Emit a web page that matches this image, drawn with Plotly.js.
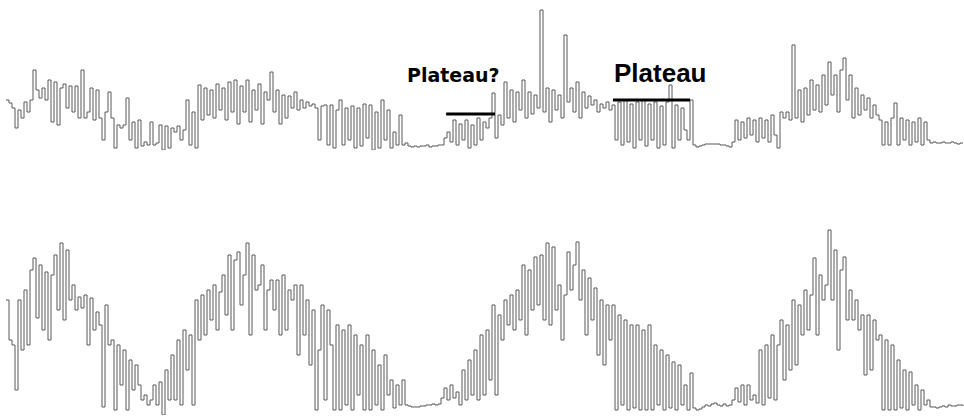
<!DOCTYPE html>
<html>
<head>
<meta charset="utf-8">
<script src="https://cdn.plot.ly/plotly-3.0.1.min.js"></script>
<style>html,body{margin:0;padding:0;background:#fff;}#chart{width:964px;height:416px;}</style>
</head>
<body>
<div id="chart"></div>
<script>
// Upper recording: amplitude per sample
const upperSignal = [
50,47,42,22,40,32,48,38,50,80,60,52,62,50,70,28,68,25,62,66,
42,64,38,64,32,80,32,38,62,30,60,32,10,38,58,32,2,25,22,25,
52,10,28,2,30,4,8,5,28,5,7,25,0,24,2,22,18,24,10,20,
50,5,38,2,65,30,62,35,60,32,66,40,62,30,68,38,70,26,64,38,
70,28,60,40,66,26,58,50,78,38,60,26,55,32,54,42,58,40,50,42,
48,44,46,42,10,44,45,5,45,2,40,50,5,42,10,44,2,42,4,46,
12,45,0,38,2,50,10,40,2,18,5,35,5,7,4,3,4,3,4,4,
5,3,4,4,5,5,12,18,8,30,5,26,10,30,2,25,5,32,10,28,
22,32,57,12,35,25,68,32,60,28,58,40,70,32,58,36,55,42,140,38,
62,28,60,40,55,32,115,48,62,38,68,32,58,42,54,45,50,38,46,42,
48,40,45,10,48,5,50,8,46,2,48,10,50,4,46,10,48,2,44,5,
48,65,2,45,10,42,20,10,50,5,3,4,5,6,6,6,6,6,5,5,
4,3,8,30,10,28,12,32,15,30,8,32,12,30,8,35,15,2,38,32,
38,30,105,32,60,28,62,35,70,40,65,38,75,45,88,55,75,38,80,92,
50,75,32,62,35,55,40,52,32,45,35,30,5,28,5,32,47,5,32,10,
30,5,28,8,32,5,28,10,7,8,7,7,8,7,7,8,7,6,7,7
];

// Lower recording: amplitude per sample
const lowerSignal = [
115,75,70,25,115,65,125,70,145,157,97,150,85,143,75,140,160,105,172,95,
165,115,130,105,118,107,120,70,117,85,103,90,8,110,70,75,5,70,30,65,
5,55,25,50,30,15,20,10,15,30,10,33,0,45,15,60,15,75,10,85,
45,80,10,115,75,120,80,125,95,130,85,123,140,100,160,85,155,163,110,140,
172,80,160,125,130,150,85,125,135,105,135,80,140,85,125,115,130,60,130,80,
115,50,105,5,65,110,15,105,70,5,90,5,85,10,90,5,80,20,70,5,
80,5,65,10,50,5,60,20,35,7,30,10,35,10,9,8,8,8,9,9,
10,10,11,10,11,17,27,15,30,17,23,10,45,15,55,20,65,15,80,20,
85,35,110,20,100,75,115,90,120,85,125,95,150,80,145,105,158,110,160,95,
172,90,168,105,130,75,120,163,125,150,173,115,145,80,137,95,127,60,115,50,
110,75,110,5,100,10,95,5,90,7,90,5,85,5,90,5,70,10,65,5,
60,7,53,5,50,10,30,5,42,7,5,6,8,10,9,11,12,10,9,11,
9,10,15,27,13,30,10,30,15,20,12,65,10,70,17,80,15,70,95,35,
90,45,115,50,110,80,125,85,120,157,80,140,115,130,185,115,165,65,145,158,
95,125,95,115,85,100,40,100,45,95,75,80,5,75,5,70,5,55,7,45,
5,43,10,30,5,25,10,15,8,8,7,8,9,8,10,9,9,10,10,9
];

// Annotation labels
const labels = ["Plateau?", "Plateau"];

const idxU = upperSignal.map((_, i) => i);
const idxL = lowerSignal.map((_, i) => i);

const lineStyle = {color: '#585858', width: 1, shape: 'hv'};

const traces = [
  {x: idxU, y: upperSignal, type: 'scatter', mode: 'lines', line: lineStyle, xaxis: 'x', yaxis: 'y', hoverinfo: 'skip'},
  {x: idxL, y: lowerSignal, type: 'scatter', mode: 'lines', line: lineStyle, xaxis: 'x', yaxis: 'y2', hoverinfo: 'skip'}
];

const hidden = {showgrid: false, zeroline: false, showticklabels: false, ticks: '', showline: false, fixedrange: true};

const layout = {
  width: 964, height: 416,
  margin: {l: 0, r: 0, t: 0, b: 0, pad: 0},
  paper_bgcolor: '#ffffff', plot_bgcolor: '#ffffff',
  showlegend: false,
  xaxis: Object.assign({range: [-2, 319.33]}, hidden),
  yaxis: Object.assign({range: [0, 150], domain: [0.6394, 1]}, hidden),
  yaxis2: Object.assign({range: [0, 200], domain: [0.0024, 0.4832]}, hidden),
  shapes: [
    {type: 'line', xref: 'x', yref: 'y', x0: 146.7, x1: 163, y0: 36, y1: 36, line: {color: '#000', width: 3}},
    {type: 'line', xref: 'x', yref: 'y', x0: 202.3, x1: 228, y0: 50, y1: 50, line: {color: '#000', width: 3}}
  ],
  annotations: [
    {text: '<b>' + labels[0] + '</b>', xref: 'x', yref: 'y', x: 149, y: 75, showarrow: false,
     xanchor: 'center', yanchor: 'middle', font: {family: 'DejaVu Sans, sans-serif', size: 19, color: '#000'}},
    {text: '<b>' + labels[1] + '</b>', xref: 'x', yref: 'y', x: 218, y: 77.5, showarrow: false,
     xanchor: 'center', yanchor: 'middle', font: {family: 'Liberation Sans, Arial, sans-serif', size: 26, color: '#000'}}
  ]
};

Plotly.newPlot('chart', traces, layout, {displayModeBar: false, staticPlot: true});
</script>
</body>
</html>
